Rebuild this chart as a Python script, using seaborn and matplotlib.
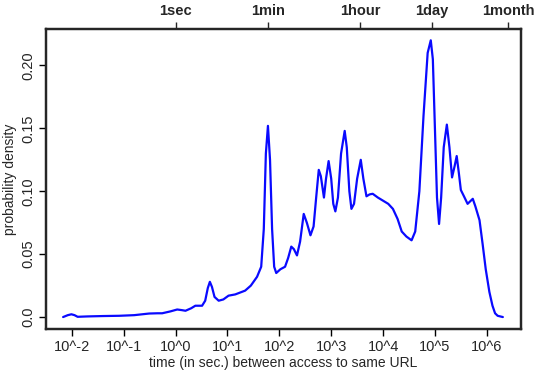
import numpy as np
import pandas as pd
import matplotlib
matplotlib.use("Agg")
import matplotlib.pyplot as plt
import seaborn as sns

# log10(time in seconds) and estimated probability density
log_time = [-2.17, -2.08, -2.01, -1.95, -1.89, -1.7, -1.4, -1.09, -0.8, -0.51, -0.35, -0.26,
            -0.1, 0.03, 0.12, 0.19, 0.30, 0.38, 0.51, 0.57, 0.62, 0.66, 0.70, 0.75, 0.83,
            0.92, 1.02, 1.15, 1.34, 1.45, 1.57, 1.65, 1.70, 1.74, 1.78, 1.82, 1.86, 1.90,
            1.94, 2.02, 2.11, 2.17, 2.23, 2.28, 2.34, 2.40, 2.47, 2.53, 2.60, 2.66, 2.71,
            2.76, 2.80, 2.86, 2.90, 2.95, 3.00, 3.04, 3.08, 3.13, 3.19, 3.26, 3.30, 3.35,
            3.39, 3.44, 3.50, 3.57, 3.62, 3.68, 3.74, 3.80, 3.90, 3.98, 4.10, 4.19, 4.28,
            4.36, 4.45, 4.55, 4.62, 4.70, 4.78, 4.86, 4.92, 4.96, 5.00, 5.04, 5.08, 5.12,
            5.17, 5.23, 5.28, 5.33, 5.38, 5.42, 5.46, 5.50, 5.56, 5.63, 5.68, 5.73, 5.78,
            5.86, 5.92, 5.98, 6.05, 6.11, 6.16, 6.21, 6.31]
density = [0.000, 0.0015, 0.0022, 0.0015, 0.0002, 0.0005, 0.0008, 0.0010, 0.0015, 0.0028,
           0.0030, 0.0030, 0.0045, 0.0060, 0.0055, 0.0050, 0.0070, 0.0090, 0.0090, 0.0130,
           0.0230, 0.0280, 0.0240, 0.0160, 0.0130, 0.0140, 0.0170, 0.0180, 0.0210, 0.0250,
           0.0320, 0.0400, 0.0700, 0.1300, 0.1520, 0.1250, 0.0700, 0.0400, 0.0350, 0.0380,
           0.0400, 0.0470, 0.0560, 0.0540, 0.0490, 0.0600, 0.0820, 0.0750, 0.0650, 0.0720,
           0.0950, 0.1170, 0.1120, 0.0950, 0.1100, 0.1240, 0.1100, 0.0900, 0.0840, 0.0950,
           0.1300, 0.1480, 0.1350, 0.1000, 0.0860, 0.0900, 0.1100, 0.1250, 0.1100, 0.0960,
           0.0975, 0.0980, 0.0950, 0.0930, 0.0900, 0.0860, 0.0780, 0.0680, 0.0640, 0.0610,
           0.0680, 0.1000, 0.1600, 0.2100, 0.2200, 0.2050, 0.1500, 0.0950, 0.0740, 0.0950,
           0.1350, 0.1530, 0.1350, 0.1110, 0.1200, 0.1280, 0.1150, 0.1010, 0.0960, 0.0900,
           0.0920, 0.0940, 0.0880, 0.0770, 0.0580, 0.0380, 0.0200, 0.0090, 0.0030, 0.0010,
           0.0000]

bottom_ticks = [-2, -1, 0, 1, 2, 3, 4, 5, 6]
bottom_labels = ["10^-2", "10^-1", "10^0", "10^1", "10^2", "10^3", "10^4", "10^5", "10^6"]
y_ticks = [0.0, 0.05, 0.10, 0.15, 0.20]
y_labels = ["0.0", "0.05", "0.10", "0.15", "0.20"]
top_seconds = [1, 60, 3600, 86400, 2592000]
top_labels = ["1sec", "1min", "1hour", "1day", "1month"]

sns.set_style("ticks")
plt.rcParams['font.family'] = ['Liberation Sans', 'DejaVu Sans']

fig = plt.figure(figsize=(5.44, 3.78), dpi=100)
ax = fig.add_axes([46/544, 1 - 329/378, (521 - 46)/544, (329 - 29)/378])

df = pd.DataFrame({"t": log_time, "d": density})
sns.lineplot(data=df, x="t", y="d", ax=ax, color="#0a0aff", linewidth=1.6, sort=False)

ax.set_xlim(-2.5, 6.66)
ax.set_ylim(-0.0095, 0.229)
ax.set_xticks(bottom_ticks)
ax.set_xticklabels(bottom_labels, fontsize=10.5)
ax.set_yticks(y_ticks)
ax.set_yticklabels(y_labels, fontsize=10.5, rotation=90, va="center")
ax.set_xlabel("time (in sec.) between access to same URL", fontsize=10, labelpad=1)
ax.set_ylabel("probability density", fontsize=10, labelpad=3)
ax.tick_params(direction="out", length=5, width=1, color="black", pad=3)
for s in ax.spines.values():
    s.set_linewidth(1.6)
    s.set_color("black")

ax2 = ax.twiny()
ax2.set_xlim(ax.get_xlim())
ax2.set_xticks(np.log10(top_seconds))
ax2.set_xticklabels(top_labels, fontsize=10.5, fontweight="bold")
ax2.tick_params(direction="out", length=5, width=1, pad=3)
for s in ax2.spines.values():
    s.set_linewidth(1.6)

fig.savefig("out.png", dpi=100)
